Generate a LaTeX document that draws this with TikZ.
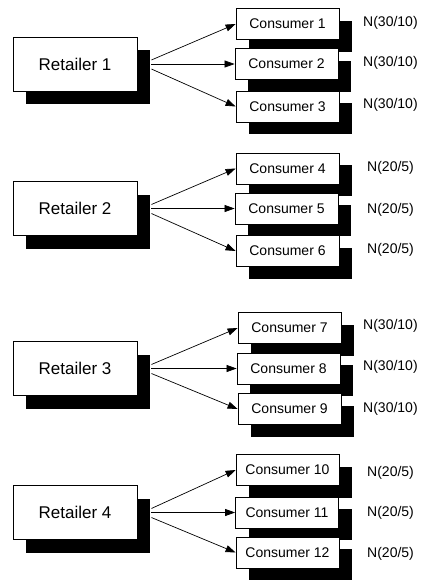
\documentclass[tikz,border=0pt]{standalone}
\usepackage{fontspec}
\setmainfont{Liberation Sans}
\usetikzlibrary{shadows,arrows.meta}
\begin{document}
\begin{tikzpicture}[x=1pt,y=-1pt,
  box/.style={draw=black, fill=white, line width=0.8pt, inner sep=0pt,
    general shadow={fill=black, shadow xshift=13pt, shadow yshift=-13pt}},
  retailer/.style={box, minimum width=124pt, minimum height=54pt, font=\fontsize{17}{20}\selectfont},
  consumer/.style={draw=black, fill=white, line width=0.8pt, inner sep=0pt,
    minimum width=103pt, minimum height=31pt, font=\fontsize{14}{16}\selectfont,
    general shadow={fill=black, shadow xshift=13pt, shadow yshift=-12pt}},
  dist/.style={anchor=west, inner sep=0pt, font=\fontsize{14}{16}\selectfont},
  link/.style={line width=0.7pt, -{Triangle[length=10pt,width=7pt]}}]
\useasboundingbox (0,0) rectangle (422,581);

% retailers
\node[retailer] (r1) at (75,64) {Retailer 1};
\node[retailer] (r2) at (75,208.5) {Retailer 2};
\node[retailer] (r3) at (75,368.5) {Retailer 3};
\node[retailer] (r4) at (75,512.5) {Retailer 4};

% consumers
\node[consumer] (c1) at (287.5,24) {Consumer 1};
\node[consumer] (c2) at (286.5,64) {Consumer 2};
\node[consumer] (c3) at (287.5,106.5) {Consumer 3};
\node[consumer] (c4) at (287.5,168.5) {Consumer 4};
\node[consumer] (c5) at (286.5,208.5) {Consumer 5};
\node[consumer] (c6) at (287.5,251) {Consumer 6};
\node[consumer] (c7) at (289.5,328) {Consumer 7};
\node[consumer] (c8) at (288.5,368.5) {Consumer 8};
\node[consumer] (c9) at (289.5,409) {Consumer 9};
\node[consumer] (c10) at (287.5,470) {Consumer 10};
\node[consumer] (c11) at (287,512.5) {Consumer 11};
\node[consumer] (c12) at (287.5,552.5) {Consumer 12};

% distributions
\node[dist] (n1) at (363,23) {N(30/10)};
\node[dist] (n2) at (363,63) {N(30/10)};
\node[dist] (n3) at (363,105) {N(30/10)};
\node[dist] (n4) at (367,168) {N(20/5)};
\node[dist] (n5) at (367,210) {N(20/5)};
\node[dist] (n6) at (367,250) {N(20/5)};
\node[dist] (n7) at (363,326) {N(30/10)};
\node[dist] (n8) at (363,367) {N(30/10)};
\node[dist] (n9) at (363,409) {N(30/10)};
\node[dist] (n10) at (367,473) {N(20/5)};
\node[dist] (n11) at (367,513) {N(20/5)};
\node[dist] (n12) at (367,554) {N(20/5)};

% links
\foreach \r/\a/\b/\c in {r1/c1/c2/c3, r2/c4/c5/c6, r3/c7/c8/c9, r4/c10/c11/c12}{
  \draw[link] ([shift={(14,-4)}]\r.east) -- (\a.west);
  \draw[link] ([shift={(14,0)}]\r.east) -- (\b.west);
  \draw[link] ([shift={(14,5)}]\r.east) -- (\c.west);
}
\end{tikzpicture}
\end{document}
